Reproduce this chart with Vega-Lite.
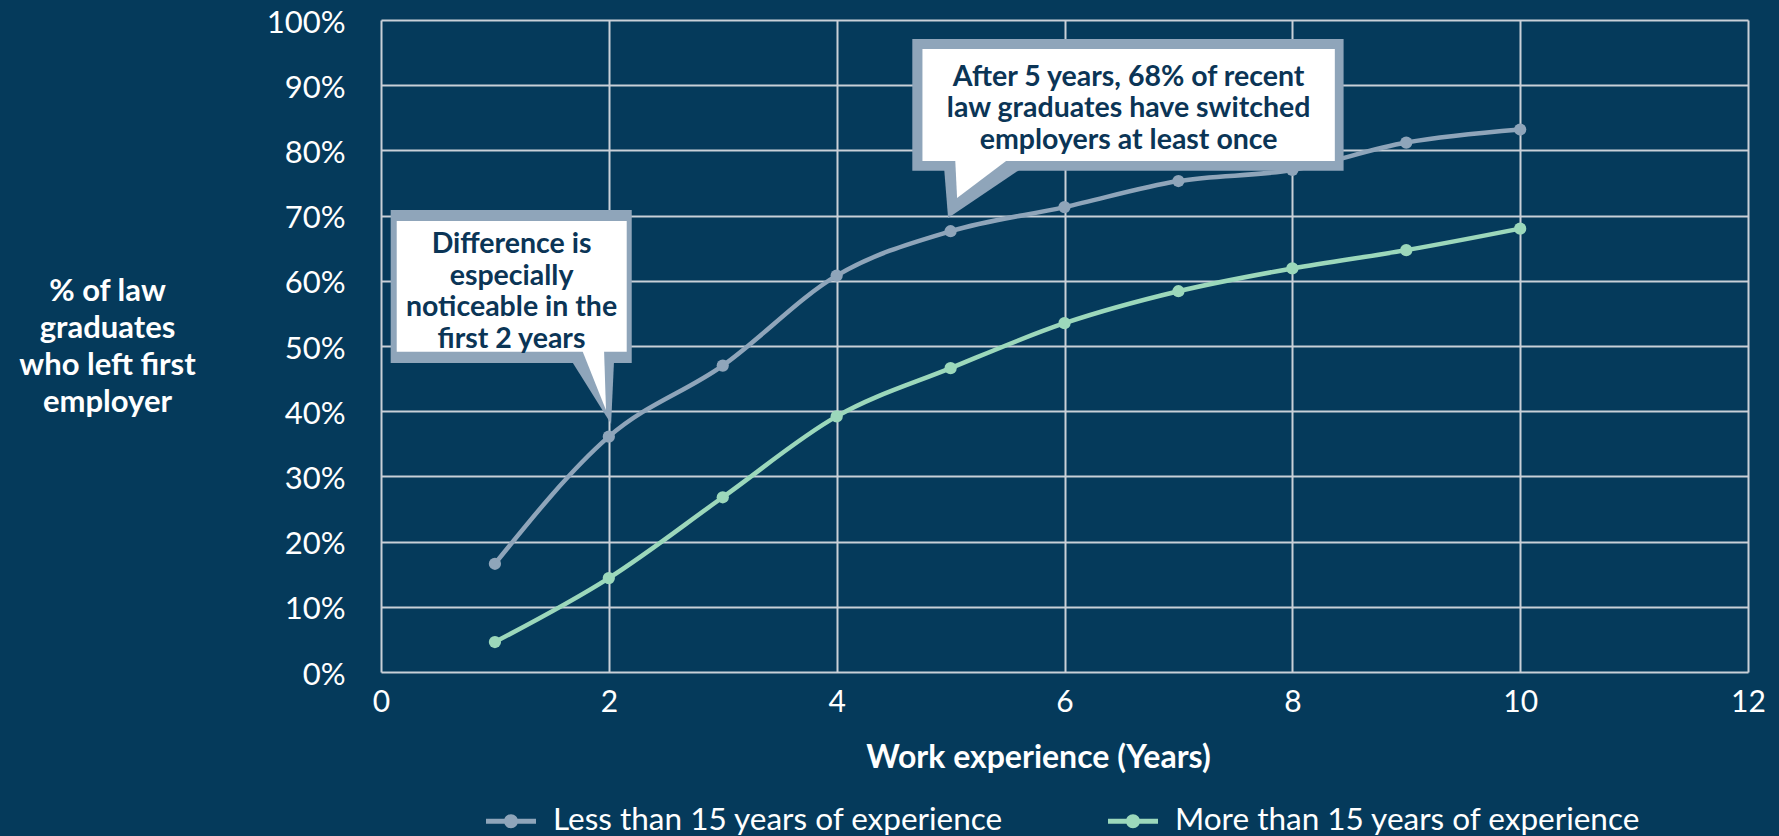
{
  "$schema": "https://vega.github.io/schema/vega-lite/v6.json",
  "width": 1367,
  "height": 652,
  "autosize": {"type": "none"},
  "padding": {"left": 381, "top": 20, "right": 31, "bottom": 164},
  "background": "#053a5b",
  "config": {"view": {"stroke": null}, "font": "Lato"},
  "datasets": {
    "series": [
      {"years": 1, "pct": 16.6, "group": "Less than 15 years of experience"},
      {"years": 2, "pct": 36.1, "group": "Less than 15 years of experience"},
      {"years": 3, "pct": 47.0, "group": "Less than 15 years of experience"},
      {"years": 4, "pct": 60.8, "group": "Less than 15 years of experience"},
      {"years": 5, "pct": 67.6, "group": "Less than 15 years of experience"},
      {"years": 6, "pct": 71.3, "group": "Less than 15 years of experience"},
      {"years": 7, "pct": 75.3, "group": "Less than 15 years of experience"},
      {"years": 8, "pct": 77.0, "group": "Less than 15 years of experience"},
      {"years": 9, "pct": 81.2, "group": "Less than 15 years of experience"},
      {"years": 10, "pct": 83.2, "group": "Less than 15 years of experience"},
      {"years": 1, "pct": 4.6, "group": "More than 15 years of experience"},
      {"years": 2, "pct": 14.4, "group": "More than 15 years of experience"},
      {"years": 3, "pct": 26.8, "group": "More than 15 years of experience"},
      {"years": 4, "pct": 39.2, "group": "More than 15 years of experience"},
      {"years": 5, "pct": 46.6, "group": "More than 15 years of experience"},
      {"years": 6, "pct": 53.5, "group": "More than 15 years of experience"},
      {"years": 7, "pct": 58.4, "group": "More than 15 years of experience"},
      {"years": 8, "pct": 61.9, "group": "More than 15 years of experience"},
      {"years": 9, "pct": 64.7, "group": "More than 15 years of experience"},
      {"years": 10, "pct": 68.0, "group": "More than 15 years of experience"}
    ],
    "boxOuter": [
      {"years": 0.085, "years2": 2.201, "pct": 70.86, "pct2": 47.39},
      {"years": 4.664, "years2": 8.45, "pct": 97.09, "pct2": 76.89}
    ],
    "boxInner": [
      {"years": 0.138, "years2": 2.157, "pct": 69.17, "pct2": 49.13},
      {"years": 4.753, "years2": 8.373, "pct": 95.55, "pct2": 78.37}
    ],
    "triOuter": [
      {"id": "a", "years": 1.668, "pct": 47.85, "pct2": 47.85},
      {"id": "a", "years": 2.02, "pct": 47.85, "pct2": 38.04},
      {"id": "a", "years": 2.046, "pct": 47.85, "pct2": 47.85},
      {"id": "b", "years": 4.943, "pct": 77.3, "pct2": 77.3},
      {"id": "b", "years": 4.978, "pct": 77.3, "pct2": 69.63},
      {"id": "b", "years": 5.628, "pct": 77.3, "pct2": 77.3}
    ],
    "triInner": [
      {"id": "a", "years": 1.765, "pct": 49.39, "pct2": 49.39},
      {"id": "a", "years": 1.958, "pct": 49.39, "pct2": 40.92},
      {"id": "a", "years": 1.975, "pct": 40.18, "pct2": 40.18},
      {"id": "b", "years": 5.04, "pct": 78.83, "pct2": 78.83},
      {"id": "b", "years": 5.057, "pct": 78.83, "pct2": 72.7},
      {"id": "b", "years": 5.522, "pct": 78.83, "pct2": 78.83}
    ],
    "notes": [
      {"years": 1.146, "pct": 65.6, "text": "Difference is\nespecially\nnoticeable in the\nfirst 2 years"},
      {"years": 6.563, "pct": 91.3, "text": "After 5 years, 68% of recent\nlaw graduates have switched\nemployers at least once"}
    ]
  },
  "layer": [
    {
      "data": {"name": "series"},
      "mark": {"type": "line", "interpolate": "monotone", "strokeWidth": 4.5},
      "encoding": {
        "x": {
          "field": "years", "type": "quantitative",
          "scale": {"domain": [0, 12], "nice": false},
          "axis": {
            "values": [0, 2, 4, 6, 8, 10, 12], "format": "d", "labelFlush": false,
            "grid": true, "gridColor": "#c9d0d8", "gridWidth": 2, "gridOpacity": 1,
            "ticks": false, "domain": false,
            "labelFont": "Lato", "labelFontSize": 30, "labelColor": "#ffffff", "labelPadding": 15,
            "title": "Work experience (Years)",
            "titleFont": "Lato", "titleFontSize": 32, "titleFontWeight": "bold", "titleColor": "#ffffff",
            "titleX": 657, "titleY": 85, "titleBaseline": "middle", "titleAlign": "center"
          }
        },
        "y": {
          "field": "pct", "type": "quantitative",
          "scale": {"domain": [0, 100], "nice": false},
          "axis": {
            "values": [0, 10, 20, 30, 40, 50, 60, 70, 80, 90, 100],
            "labelExpr": "datum.value + '%'", "labelFlush": false,
            "grid": true, "gridColor": "#c9d0d8", "gridWidth": 2, "gridOpacity": 1,
            "ticks": false, "domain": false,
            "labelFont": "Lato", "labelFontSize": 31, "labelColor": "#ffffff", "labelPadding": 36, "labelOffset": 3,
            "title": ["% of law", "graduates", "who left first", "employer"],
            "titleFont": "Lato", "titleFontSize": 31, "titleFontWeight": "bold", "titleColor": "#ffffff",
            "titleAngle": 0, "titleAlign": "center", "titleBaseline": "middle", "titleLineHeight": 37,
            "titleX": -274, "titleY": 271
          }
        },
        "color": {
          "field": "group", "type": "nominal",
          "scale": {
            "domain": ["Less than 15 years of experience", "More than 15 years of experience"],
            "range": ["#8fa5ba", "#9cd8bb"]
          },
          "legend": {
            "orient": "none", "legendX": 105, "legendY": 776, "direction": "horizontal",
            "title": null, "padding": 0, "labelLimit": 0,
            "labelFont": "Lato", "labelFontSize": 31.5, "labelColor": "#ffffff",
            "labelOffset": 17, "columnPadding": 104,
            "symbolType": "M-1,-0.1L1,-0.1L1,0.1L-1,0.1Z M0.28,0A0.28,0.28 0 1,1 -0.28,0A0.28,0.28 0 1,1 0.28,0Z",
            "symbolSize": 2500, "symbolStrokeWidth": 0,
            "encode": {"symbols": {"update": {"fill": {"scale": "color", "field": "value"}, "fillOpacity": {"value": 1}, "strokeWidth": {"value": 0}}}}
          }
        }
      }
    },
    {
      "data": {"name": "series"},
      "mark": {"type": "point", "filled": true, "size": 150, "opacity": 1},
      "encoding": {
        "x": {"field": "years", "type": "quantitative"},
        "y": {"field": "pct", "type": "quantitative"},
        "color": {"field": "group", "type": "nominal"}
      }
    },
    {
      "data": {"name": "boxOuter"},
      "mark": {"type": "rect", "color": "#8fa5ba"},
      "encoding": {
        "x": {"field": "years", "type": "quantitative"},
        "x2": {"field": "years2"},
        "y": {"field": "pct", "type": "quantitative"},
        "y2": {"field": "pct2"}
      }
    },
    {
      "data": {"name": "triOuter"},
      "mark": {"type": "area", "orient": "vertical", "color": "#8fa5ba", "opacity": 1},
      "encoding": {
        "x": {"field": "years", "type": "quantitative"},
        "y": {"field": "pct", "type": "quantitative"},
        "y2": {"field": "pct2"},
        "detail": {"field": "id"}
      }
    },
    {
      "data": {"name": "boxInner"},
      "mark": {"type": "rect", "color": "#ffffff"},
      "encoding": {
        "x": {"field": "years", "type": "quantitative"},
        "x2": {"field": "years2"},
        "y": {"field": "pct", "type": "quantitative"},
        "y2": {"field": "pct2"}
      }
    },
    {
      "data": {"name": "triInner"},
      "mark": {"type": "area", "orient": "vertical", "color": "#ffffff", "opacity": 1},
      "encoding": {
        "x": {"field": "years", "type": "quantitative"},
        "y": {"field": "pct", "type": "quantitative"},
        "y2": {"field": "pct2"},
        "detail": {"field": "id"}
      }
    },
    {
      "data": {"name": "notes"},
      "mark": {"type": "text", "lineBreak": "\n", "font": "Lato", "fontWeight": "bold", "fontSize": 28.5, "lineHeight": 31.5, "color": "#0b3556", "align": "center", "baseline": "middle"},
      "encoding": {
        "x": {"field": "years", "type": "quantitative"},
        "y": {"field": "pct", "type": "quantitative"},
        "text": {"field": "text"}
      }
    }
  ]
}
